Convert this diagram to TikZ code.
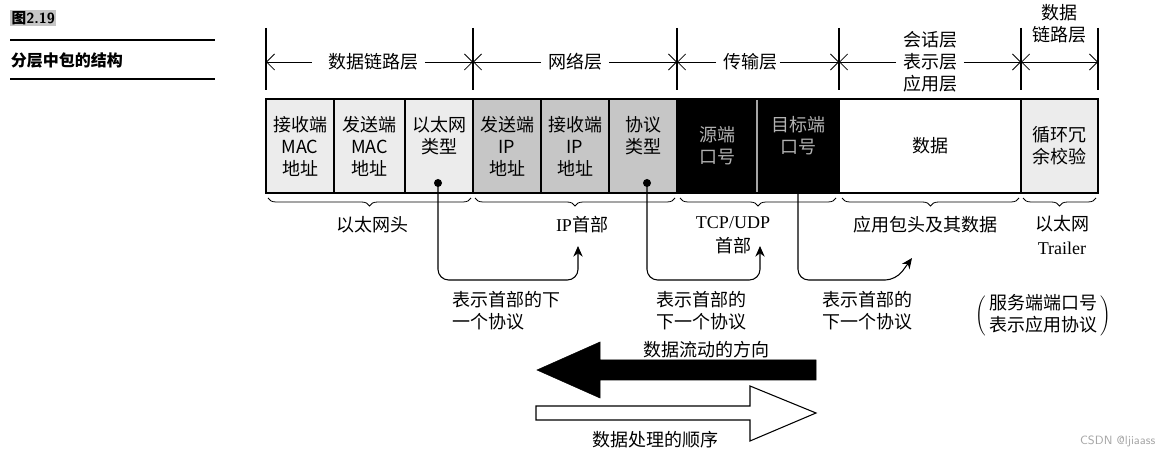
\documentclass[tikz,border=0pt]{standalone}
\usepackage{fontspec}
\setmainfont{Liberation Serif}
\newfontfamily\cjk{Noto Sans CJK SC}
\usetikzlibrary{arrows.meta,decorations.pathreplacing}
\begin{document}
\begin{tikzpicture}[x=0.75pt,y=-0.75pt,
  cell/.style={draw,thick,minimum height=70.5pt,inner sep=0pt,align=center,font=\cjk\fontsize{13.5}{16.5}\selectfont},
  lbl/.style={font=\cjk\fontsize{13.5}{16.5}\selectfont,align=center,inner sep=2pt},
  tick/.style={thick},
  dim/.style={-{Straight Barb[length=6pt,width=12pt]},semithick},
  brace/.style={decorate,decoration={brace,mirror,amplitude=6pt},semithick},
  conn/.style={thick,rounded corners=8pt,-{Stealth[length=8pt,width=7pt]}}]
\useasboundingbox (0,0) rectangle (1168,459);
% title
\node[fill=gray!45,inner sep=1pt,font=\sffamily\bfseries\fontsize{11}{12}\selectfont,anchor=west] (fig) at (10,18) {\cjk 图\sffamily 2.19};
\draw[thick] (10,40) coordinate (l1a) -- (215,40) coordinate (l1b);
\node[lbl,anchor=west,font=\cjk\bfseries\fontsize{12}{13}\selectfont] (ttl) at (8,60) {分层中包的结构};
\draw[thick] (10,79) coordinate (l2a) -- (215,79) coordinate (l2b);
% cells
\node[cell,fill=gray!15,minimum width=51pt] (c1) at (300,146) {接收端\\MAC\\地址};
\node[cell,fill=gray!15,minimum width=53.25pt] (c2) at (369.5,146) {发送端\\MAC\\地址};
\node[cell,fill=gray!15,minimum width=51pt] (c3) at (439,146) {以太网\\类型\\\phantom{地}};
\node[cell,fill=gray!45,minimum width=51pt] (c4) at (507,146) {发送端\\IP\\地址};
\node[cell,fill=gray!45,minimum width=51pt] (c5) at (575,146) {接收端\\IP\\地址};
\node[cell,fill=gray!45,minimum width=51pt] (c6) at (643,146) {协议\\类型\\\phantom{地}};
\node[cell,fill=black,text=gray!60,minimum width=60pt] (c7) at (717,146) {源端\\口号};
\node[cell,fill=black,text=gray!60,minimum width=61.5pt] (c8) at (798,146) {目标端\\口号\\\phantom{地}};
\node[cell,fill=white,minimum width=136.5pt] (c9) at (930,146) {数据};
\node[cell,fill=gray!15,minimum width=57.75pt] (c10) at (1059.5,146) {循环冗\\余校验};
\draw[thick] (266,99) rectangle (1098,193);
\draw[thick,gray!70] (757,100) -- (757,192);
% layer dims
\foreach \x/\n in {266/t1,473/t2,677/t3,839/t4,1021/t5,1098/t6}{\draw[tick] (\x,28) coordinate (\n a) -- (\x,90) coordinate (\n b);}
\node[lbl] (L1) at (373,62) {数据链路层};
\node[lbl] (L2) at (575,62) {网络层};
\node[lbl] (L3) at (750,62) {传输层};
\node[lbl] (L4) at (930,62) {会话层\\表示层\\应用层};
\node[lbl] (L5) at (1059,24) {数据\\链路层};
\coordinate (d1) at (266,62); \coordinate (d2) at (473,62); \coordinate (d3) at (677,62);
\coordinate (d4) at (839,62); \coordinate (d5) at (1021,62); \coordinate (d6) at (1098,62);
\draw[dim] ([xshift=-10pt]L1.west) -- (d1); \draw[dim] ([xshift=3pt]L1.east) -- (d2);
\draw[dim] ([xshift=-3pt]L2.west) -- (d2); \draw[dim] ([xshift=3pt]L2.east) -- (d3);
\draw[dim] ([xshift=-3pt]L3.west) -- (d3); \draw[dim] (L3.east) -- (d4);
\draw[dim] ([xshift=-3pt]L4.west) -- (d4); \draw[dim] ([xshift=3pt]L4.east) -- (d5);
\draw[{Straight Barb[length=6pt,width=12pt]}-{Straight Barb[length=6pt,width=12pt]},semithick] (d5) -- (d6);
% braces
\draw[brace] (268,198) -- (471,198);
\draw[brace] (475,198) -- (675,198);
\draw[brace] (680,198) -- (836,198);
\draw[brace] (842,198) -- (1019,198);
\draw[brace] (1023,198) -- (1096,198);
\node[lbl] (b1) at (372,225) {以太网头};
\node[lbl,font=\fontsize{13.5}{16.5}\selectfont] (b2) at (582,225) {IP\cjk 首部};
\node[lbl,font=\fontsize{13.5}{18}\selectfont] (b3) at (733,235) {TCP/UDP\\\cjk 首部};
\node[lbl] (b4) at (925,225) {应用包头及其数据};
\node[lbl,font=\fontsize{13.5}{18}\selectfont] (b5) at (1062,235) {\cjk 以太网\\Trailer};
% connectors
\fill (438,183) circle (3pt) coordinate (p1);
\fill (647,183) circle (3pt) coordinate (p2);
\coordinate (p3) at (798,193);
\coordinate (e1) at (578,246); \coordinate (e2) at (760,246); \coordinate (e3) at (912,258);
\draw[conn] (p1) |- (578,280) -- (e1);
\draw[conn] (p2) |- (760,280) -- (e2);
\draw[conn] (p3) |- (896,280) -- (e3);
\node[lbl,align=left,anchor=north west] (n1) at (450,288) {表示首部的下\\一个协议};
\node[lbl,align=left,anchor=north west] (n2) at (654,288) {表示首部的\\下一个协议};
\node[lbl,align=left,anchor=north west] (n3) at (820,288) {表示首部的\\下一个协议};
\node[lbl] (srv) at (1043,316) {$\left(\mbox{\cjk\begin{tabular}{@{\,}c@{\,}}服务端端口号\\表示应用协议\end{tabular}}\right)$};
% big arrows
\draw[fill=black] (816,360) -- (600,360) -- (600,342) -- (537,370) -- (600,398) -- (600,380) -- (816,380) -- cycle;
\node[lbl] (fl) at (706,350) {数据流动的方向};
\draw[thick,fill=white] (536,406) -- (750,406) -- (750,386) -- (816,413) -- (750,441) -- (750,420) -- (536,420) -- cycle;
\node[lbl] (pr) at (655,440) {数据处理的顺序};
\node[font=\sffamily\fontsize{9}{10}\selectfont,text=gray!70,anchor=east] (wm) at (1160,441) {CSDN @ljiaass};
\end{tikzpicture}
\end{document}
